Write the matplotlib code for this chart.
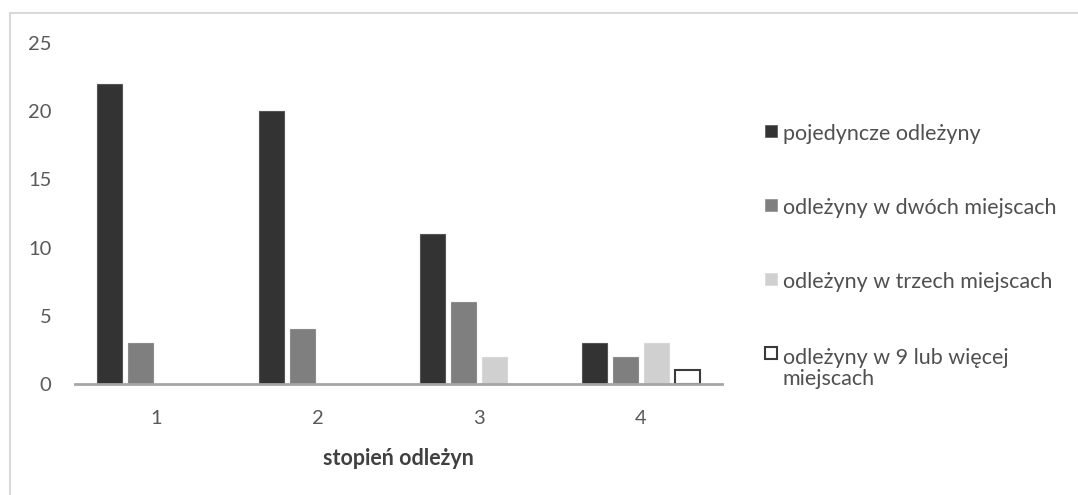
import matplotlib
matplotlib.use("Agg")
import matplotlib.pyplot as plt
from matplotlib.lines import Line2D
from matplotlib.patches import Rectangle
import numpy as np

categories = ["1", "2", "3", "4"]
series_names = ["pojedyncze odleżyny", "odleżyny w dwóch miejscach",
                "odleżyny w trzech miejscach", "odleżyny w 9 lub więcej\nmiejscach"]
pojedyncze = [22, 20, 11, 3]
dwa_miejsca = [3, 4, 6, 2]
trzy_miejsca = [0, 0, 2, 3]
dziewiec_wiecej = [0, 0, 0, 1]
y_ticks = [0, 5, 10, 15, 20, 25]
x_label = "stopień odleżyn"

plt.rcParams['font.family'] = ['Lato', 'DejaVu Sans']

W, H = 1078, 495
fig = plt.figure(figsize=(W / 100, H / 100), dpi=100)
ax = fig.add_axes([75 / W, 111 / H, 647 / W, 341 / H])

series = [pojedyncze, dwa_miejsca, trzy_miejsca, dziewiec_wiecej]
faces = ['#333333', '#7f7f7f', '#d0d0d0', '#ffffff']
edges = ['#555555', '#8c8c8c', '#d8d8d8', '#3a3a3a']
lws = [0.8, 0.8, 0.8, 1.5]
x = np.arange(1, len(categories) + 1)
step = 0.192
width = 0.155
for i, (vals, fc, ec, lw, name) in enumerate(zip(series, faces, edges, lws, series_names)):
    offs = (i - 1.5) * step
    xs, vs = [], []
    for xi, v in zip(x, vals):
        if v > 0:
            xs.append(xi + offs)
            vs.append(v)
    ax.bar(xs, vs, width=width, color=fc, edgecolor=ec, linewidth=lw, label=name, zorder=3)

ax.set_xlim(0.5, 4.5)
ax.set_ylim(0, 25)
ax.set_yticks(y_ticks)
ax.set_xticks(x)
ax.set_xticklabels(categories)
ax.tick_params(axis='both', length=0, labelsize=14.5, colors='#595959')
ax.tick_params(axis='y', pad=17)
ax.tick_params(axis='x', pad=19)
for s in ['top', 'right', 'left']:
    ax.spines[s].set_visible(False)
ax.spines['bottom'].set_color('#a6a6a6')
ax.spines['bottom'].set_linewidth(2)
ax.spines['bottom'].set_zorder(4)
ax.set_xlabel(x_label, fontsize=15.5, fontweight='bold', color='#404040', labelpad=15)

# legend (manual layout to keep marker aligned with first text line)
leg_x = 765
leg_centers = [131, 205, 279, 353]
msize = 12
line_step = 23
for name, fc, ec, lw, cy in zip(series_names, faces, edges, lws, leg_centers):
    fig.add_artist(Rectangle((leg_x / W, 1 - (cy + msize / 2) / H), msize / W, msize / H,
                             transform=fig.transFigure, facecolor=fc,
                             edgecolor=ec if fc != '#ffffff' else '#3a3a3a',
                             linewidth=lw if fc == '#ffffff' else 0.5))
    n_lines = name.count("\n") + 1
    base_last = cy + 9 + line_step * (n_lines - 1)
    fig.text(783 / W, 1 - base_last / H, name, fontsize=15.5, color='#505050',
             va='baseline', ha='left', linespacing=1.08)

fig.add_artist(Line2D([10 / W, 1], [1 - 13 / H, 1 - 13 / H], transform=fig.transFigure,
                      color='#d9d9d9', linewidth=1.5))
fig.add_artist(Line2D([10 / W, 10 / W], [0, 1 - 13 / H], transform=fig.transFigure,
                      color='#d9d9d9', linewidth=1.5))

fig.savefig("out.png", dpi=100)
